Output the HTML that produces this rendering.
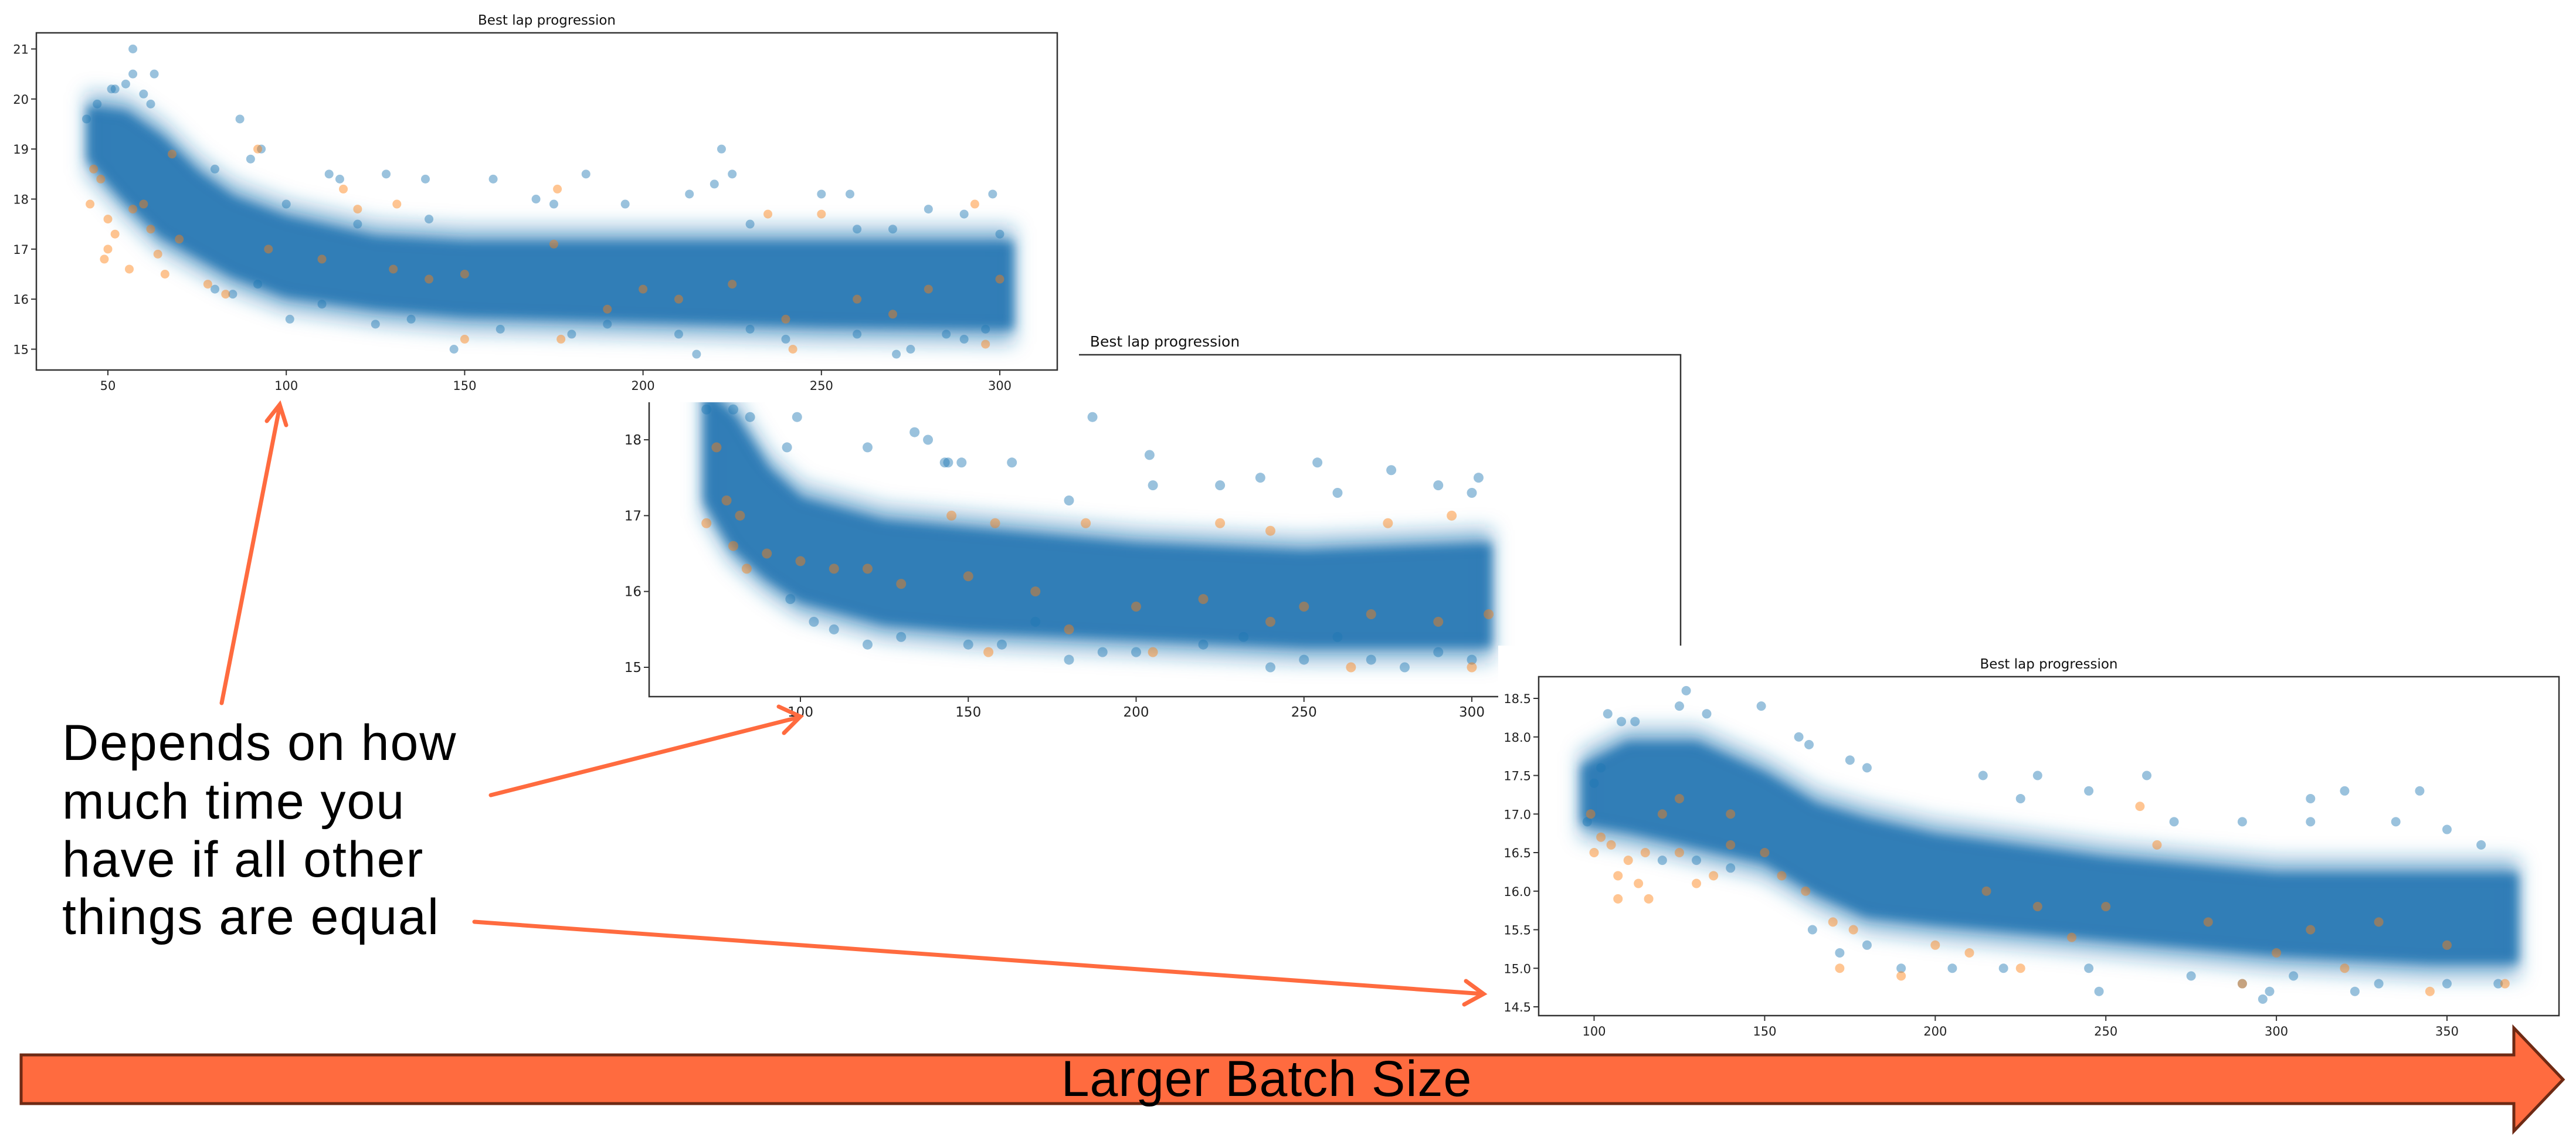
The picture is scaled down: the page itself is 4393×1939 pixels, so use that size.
<!DOCTYPE html>
<html><head><meta charset="utf-8"><style>
html,body{margin:0;padding:0;background:#fff;}
svg{display:block;}
</style></head><body>
<svg id="root" width="4393" height="1939" viewBox="0 0 4393 1939" xmlns="http://www.w3.org/2000/svg" font-family="'DejaVu Sans', 'Liberation Sans', sans-serif">
<defs>
  <filter id="soft" x="-10%" y="-30%" width="120%" height="160%"><feGaussianBlur stdDeviation="9"/></filter>
  <filter id="soft2" x="-10%" y="-30%" width="120%" height="160%"><feGaussianBlur stdDeviation="16"/></filter>
</defs>
<rect x="0" y="0" width="4393" height="1939" fill="#fff"/>
<g id="c2"></g>
<g id="c1"></g>
<g id="c3"></g>
<g stroke="#FF6B3F" stroke-width="7" stroke-linecap="round" fill="none">
  <g>
    <line x1="378" y1="1199" x2="477" y2="693"/>
    <polyline points="455,718 477,690 488,725"/>
  </g>
  <g>
    <line x1="837" y1="1356" x2="1363" y2="1223"/>
    <polyline points="1328,1205 1365,1222 1337,1250"/>
  </g>
  <g>
    <line x1="809" y1="1572" x2="2529" y2="1695"/>
    <polyline points="2500,1673 2530,1695 2497,1713"/>
  </g>
</g>
<text font-family="'Liberation Sans', sans-serif" font-size="86" fill="#000" letter-spacing="2">
  <tspan x="106" y="1296">Depends on how</tspan>
  <tspan x="106" y="1396">much time you</tspan>
  <tspan x="106" y="1495">have if all other</tspan>
  <tspan x="106" y="1593">things are equal</tspan>
</text>
<g>
  <polygon points="36,1799 4287,1799 4287,1753 4371,1841 4287,1929 4287,1882 36,1882" fill="#FF6B3F" stroke="#6e2a14" stroke-width="5" stroke-linejoin="miter"/>
  <text x="2160" y="1869" text-anchor="middle" font-family="'Liberation Sans', sans-serif" font-size="86" fill="#000" letter-spacing="1">Larger Batch Size</text>
</g>
</svg>
<script>
// ---------- chart 1 data ----------
const c1BandX  = [45, 55, 65, 75, 85, 100, 125, 150, 200, 250, 303];
const c1BandLo = [18.8, 18.0, 17.3, 16.9, 16.5, 16.1, 15.85, 15.7, 15.6, 15.5, 15.45];
const c1BandHi = [19.8, 19.7, 19.2, 18.5, 18.0, 17.6, 17.2, 17.1, 17.1, 17.1, 17.1];
const c1Blue = [[57,21.0],[57,20.5],[63,20.5],[51,20.2],[52,20.2],[47,19.9],[55,20.3],[60,20.1],[62,19.9],[44,19.6],[87,19.6],[93,19.0],[80,18.6],[90,18.8],[112,18.5],[115,18.4],[128,18.5],[139,18.4],[158,18.4],[184,18.5],[222,19.0],[225,18.5],[220,18.3],[213,18.1],[250,18.1],[258,18.1],[298,18.1],[280,17.8],[290,17.7],[195,17.9],[170,18.0],[140,17.6],[230,17.5],[260,17.4],[120,17.5],[100,17.9],[175,17.9],[270,17.4],[300,17.3],[101,15.6],[125,15.5],[147,15.0],[215,14.9],[271,14.9],[275,15.0],[210,15.3],[230,15.4],[260,15.3],[290,15.2],[180,15.3],[160,15.4],[240,15.2],[190,15.5],[285,15.3],[296,15.4],[80,16.2],[85,16.1],[92,16.3],[110,15.9],[135,15.6]];
const c1Orange = [[46,18.6],[48,18.4],[45,17.9],[50,17.6],[52,17.3],[49,16.8],[50,17.0],[56,16.6],[57,17.8],[60,17.9],[62,17.4],[64,16.9],[66,16.5],[70,17.2],[78,16.3],[83,16.1],[92,19.0],[68,18.9],[116,18.2],[131,17.9],[176,18.2],[120,17.8],[293,17.9],[250,17.7],[235,17.7],[175,17.1],[150,16.5],[200,16.2],[225,16.3],[260,16.0],[280,16.2],[300,16.4],[110,16.8],[130,16.6],[190,15.8],[240,15.6],[296,15.1],[242,15.0],[150,15.2],[177,15.2],[210,16.0],[270,15.7],[95,17.0],[140,16.4]];
const c1XTicks = [50, 100, 150, 200, 250, 300];
const c1YTicks = [15, 16, 17, 18, 19, 20, 21];

// ---------- chart 2 data ----------
const c2BandX  = [72, 80, 90, 100, 125, 150, 200, 250, 305];
const c2BandLo = [17.2, 16.6, 16.2, 15.9, 15.6, 15.5, 15.4, 15.3, 15.3];
const c2BandHi = [18.6, 18.3, 17.6, 17.2, 16.9, 16.8, 16.6, 16.5, 16.6];
const c2Blue = [[72,18.4],[80,18.4],[85,18.3],[99,18.3],[187,18.3],[134,18.1],[138,18.0],[120,17.9],[96,17.9],[143,17.7],[148,17.7],[144,17.7],[163,17.7],[204,17.8],[254,17.7],[276,17.6],[237,17.5],[225,17.4],[205,17.4],[290,17.4],[302,17.5],[300,17.3],[180,17.2],[260,17.3],[97,15.9],[104,15.6],[110,15.5],[130,15.4],[120,15.3],[150,15.3],[160,15.3],[180,15.1],[200,15.2],[240,15.0],[250,15.1],[280,15.0],[300,15.1],[270,15.1],[190,15.2],[220,15.3],[290,15.2],[232,15.4],[170,15.6],[260,15.4]];
const c2Orange = [[75,17.9],[78,17.2],[72,16.9],[82,17.0],[80,16.6],[84,16.3],[90,16.5],[100,16.4],[110,16.3],[120,16.3],[145,17.0],[158,16.9],[185,16.9],[225,16.9],[240,16.8],[294,17.0],[275,16.9],[130,16.1],[150,16.2],[170,16.0],[200,15.8],[220,15.9],[250,15.8],[270,15.7],[290,15.6],[305,15.7],[156,15.2],[205,15.2],[264,15.0],[300,15.0],[180,15.5],[240,15.6]];
const c2XTicks = [100, 150, 200, 250, 300];
const c2YTicks = [15, 16, 17, 18];

// ---------- chart 3 data ----------
const c3BandX  = [97, 110, 130, 150, 165, 180, 200, 250, 300, 345, 370];
const c3BandLo = [16.9, 16.8, 16.6, 16.4, 16.0, 15.7, 15.6, 15.4, 15.2, 15.1, 15.1];
const c3BandHi = [17.6, 17.9, 17.9, 17.5, 17.1, 16.9, 16.7, 16.4, 16.2, 16.2, 16.2];
const c3Blue = [[127,18.6],[125,18.4],[149,18.4],[104,18.3],[108,18.2],[133,18.3],[112,18.2],[160,18.0],[163,17.9],[175,17.7],[180,17.6],[230,17.5],[214,17.5],[262,17.5],[320,17.3],[342,17.3],[310,17.2],[245,17.3],[225,17.2],[270,16.9],[290,16.9],[310,16.9],[335,16.9],[350,16.8],[360,16.6],[98,16.9],[102,17.6],[100,17.4],[164,15.5],[172,15.2],[180,15.3],[190,15.0],[205,15.0],[220,15.0],[248,14.7],[245,15.0],[275,14.9],[290,14.8],[296,14.6],[298,14.7],[323,14.7],[330,14.8],[350,14.8],[365,14.8],[305,14.9],[120,16.4],[130,16.4],[140,16.3]];
const c3Orange = [[99,17.0],[102,16.7],[100,16.5],[105,16.6],[107,16.2],[110,16.4],[107,15.9],[116,15.9],[113,16.1],[115,16.5],[125,16.5],[130,16.1],[135,16.2],[140,16.6],[150,16.5],[155,16.2],[162,16.0],[170,15.6],[172,15.0],[176,15.5],[190,14.9],[200,15.3],[210,15.2],[225,15.0],[240,15.4],[260,17.1],[265,16.6],[280,15.6],[290,14.8],[300,15.2],[320,15.0],[345,14.7],[367,14.8],[350,15.3],[330,15.6],[310,15.5],[250,15.8],[230,15.8],[215,16.0],[125,17.2],[140,17.0],[120,17.0]];
const c3XTicks = [100, 150, 200, 250, 300, 350];
const c3YTicks = ["14.5", "15.0", "15.5", "16.0", "16.5", "17.0", "17.5", "18.0", "18.5"];

const NS = 'http://www.w3.org/2000/svg';
function mk(tag, attrs, parent) {
  const e = document.createElementNS(NS, tag);
  for (const k in attrs) e.setAttribute(k, attrs[k]);
  parent.appendChild(e);
  return e;
}

function drawChart(gid, cfg, bandX, bandLo, bandHi, blue, orange, xTicks, yTicks) {
  const g = document.getElementById(gid);
  const sx = v => cfg.px0 + (v - cfg.vx0) * (cfg.px1 - cfg.px0) / (cfg.vx1 - cfg.vx0);
  const sy = v => cfg.py0 + (v - cfg.vy0) * (cfg.py1 - cfg.py0) / (cfg.vy1 - cfg.vy0);
  const bg = mk('rect', {x: cfg.bx, y: cfg.by, width: cfg.bw, height: cfg.bh, fill: '#fff'}, g);
  
  
  const clipId = gid + '-clip';
  const defs = mk('defs', {}, g);
  const cp = mk('clipPath', {id: clipId}, defs);
  mk('rect', {x: cfg.L + 2, y: cfg.clipTop, width: cfg.R - cfg.L - 4, height: cfg.B - cfg.clipTop - 2}, cp);
  const plot = mk('g', {'clip-path': 'url(#' + clipId + ')'}, g);
  
  
  const bandPts = (pad) => {
    let pts = [];
    for (let i = 0; i < bandX.length; i++) pts.push(sx(bandX[i]) + ',' + (sy(bandHi[i]) - pad));
    for (let i = bandX.length - 1; i >= 0; i--) pts.push(sx(bandX[i]) + ',' + (sy(bandLo[i]) + pad));
    return pts.join(' ');
  };
  const halo = mk('polygon', {points: bandPts(22), fill: '#1f77b4', 'fill-opacity': '0.45', stroke: '#1f77b4', 'stroke-opacity': '0.3', 'stroke-width': '20', 'stroke-linejoin': 'round', filter: 'url(#soft2)'}, plot);
  
  
  const band = mk('polygon', {points: bandPts(0), fill: '#2678b4', 'fill-opacity': '0.92', stroke: '#2678b4', 'stroke-width': '10', 'stroke-linejoin': 'round', filter: 'url(#soft)'}, plot);
  
  
  blue.forEach(p => {
    const c = mk('circle', {cx: sx(p[0]), cy: sy(p[1]), r: cfg.r, fill: '#1f77b4', 'fill-opacity': '0.45'}, plot);
    
    
  });
  orange.forEach(p => {
    const c = mk('circle', {cx: sx(p[0]), cy: sy(p[1]), r: cfg.r, fill: '#ff7f0e', 'fill-opacity': '0.45'}, plot);
    
    
  });
  const fr = mk('rect', {x: cfg.L, y: cfg.T, width: cfg.R - cfg.L, height: cfg.B - cfg.T, fill: 'none', stroke: '#333', 'stroke-width': '2.5'}, g);
  
  
  xTicks.forEach(t => {
    const x = sx(+t);
    mk('line', {x1: x, y1: cfg.B, x2: x, y2: cfg.B + 9, stroke: '#333', 'stroke-width': '2'}, g);
    const tx = mk('text', {x: x, y: cfg.B + 34, 'text-anchor': 'middle', 'font-size': cfg.fs, fill: '#222'}, g);
    tx.textContent = t;
    
    
  });
  yTicks.forEach(t => {
    const y = sy(+t);
    mk('line', {x1: cfg.L - 9, y1: y, x2: cfg.L, y2: y, stroke: '#333', 'stroke-width': '2'}, g);
    const ty = mk('text', {x: cfg.L - 13, y: y + 8, 'text-anchor': 'end', 'font-size': cfg.fs, fill: '#222'}, g);
    ty.textContent = t;
    
    
  });
  const title = mk('text', {x: (cfg.L + cfg.R) / 2, y: cfg.T - 14, 'text-anchor': 'middle', 'font-size': cfg.fs + 2, fill: '#111'}, g);
  title.textContent = 'Best lap progression';
  
  
}

drawChart('c2', {L:1107, R:2866, T:605, B:1188, clipTop:605, px0:1365, vx0:100, px1:2510, vx1:300, py0:750, vy0:18, py1:1138, vy1:15, r:8.5, fs:23, bx:1000, by:540, bw:1900, bh:720},
  c2BandX, c2BandLo, c2BandHi, c2Blue, c2Orange, c2XTicks, c2YTicks);
drawChart('c1', {L:62, R:1803, T:56, B:631, clipTop:56, px0:184, vx0:50, px1:1705, vx1:300, py0:83.5, vy0:21, py1:595.5, vy1:15, r:7.5, fs:21, bx:0, by:0, bw:1840, bh:686},
  c1BandX, c1BandLo, c1BandHi, c1Blue, c1Orange, c1XTicks, c1YTicks);
drawChart('c3', {L:2624, R:4364, T:1154, B:1732, clipTop:1154, px0:2718.5, vx0:100, px1:4173, vx1:350, py0:1191, vy0:18.5, py1:1717, vy1:14.5, r:8, fs:21, bx:2555, by:1101, bw:1838, bh:690},
  c3BandX, c3BandLo, c3BandHi, c3Blue, c3Orange, c3XTicks, c3YTicks);
</script>
</body></html>
